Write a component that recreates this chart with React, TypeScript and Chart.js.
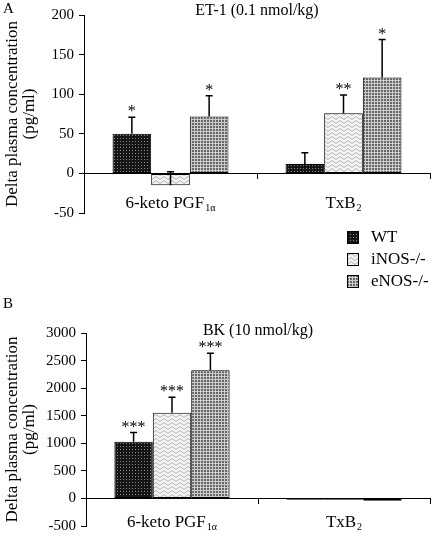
import React, { useEffect, useRef } from 'react';
import { Chart, registerables } from 'chart.js';

Chart.register(...registerables);

const FONT = "'Liberation Serif', 'Times New Roman', serif";

// ---- data ----
const categories = ['6-keto PGF', 'TxB'];
const categorySubscripts = ['1α', '2'];
const seriesNames = ['WT', 'iNOS-/-', 'eNOS-/-'];

// Panel A: ET-1 (0.1 nmol/kg)
const et1Title = 'ET-1 (0.1 nmol/kg)';
const et1Range = [-50, 200, 50];
const et1WT = [50, 12];
const et1iNOS = [-15, 76];
const et1eNOS = [72, 121];
const et1WTErr = [21, 14];
const et1iNOSErr = [17, 23];
const et1eNOSErr = [26, 48];
const et1WTStars = ['*', ''];
const et1iNOSStars = ['', '**'];
const et1eNOSStars = ['*', '*'];

// Panel B: BK (10 nmol/kg)
const bkTitle = 'BK (10 nmol/kg)';
const bkRange = [-500, 3000, 500];
const bkWT = [1030, -22];
const bkiNOS = [1555, -22];
const bkeNOS = [2325, -40];
const bkWTErr = [165, 0];
const bkiNOSErr = [278, 0];
const bkeNOSErr = [308, 0];
const bkWTStars = ['***', ''];
const bkiNOSStars = ['***', ''];
const bkeNOSStars = ['***', ''];

const yTitle = ['Delta plasma concentration', '(pg/ml)'];

// ---- patterns ----
function makeTile(kind: number): HTMLCanvasElement {
  const t = document.createElement('canvas');
  if (kind === 0) {
    t.width = 3; t.height = 3;
    const g = t.getContext('2d')!;
    g.fillStyle = '#151515'; g.fillRect(0, 0, 3, 3);
    g.fillStyle = '#8a8a8a'; g.fillRect(0, 0, 1, 1);
  } else if (kind === 1) {
    t.width = 8; t.height = 4;
    const g = t.getContext('2d')!;
    g.fillStyle = '#f4f4f4'; g.fillRect(0, 0, 8, 4);
    g.strokeStyle = '#b0b0b0'; g.lineWidth = 1;
    g.beginPath(); g.moveTo(0, 3.5); g.lineTo(4, 0.5); g.lineTo(8, 3.5); g.stroke();
  } else {
    t.width = 3; t.height = 3;
    const g = t.getContext('2d')!;
    g.fillStyle = '#cccccc'; g.fillRect(0, 0, 3, 3);
    g.fillStyle = '#666666'; g.fillRect(0, 0, 2, 2);
  }
  return t;
}

function makePattern(ctx: CanvasRenderingContext2D, kind: number) {
  return ctx.createPattern(makeTile(kind), 'repeat') as CanvasPattern;
}

type Cfg = {
  title: string;
  titleY: number;
  titleSize: number;
  labelOffset: number;
  errors: number[][];
  stars: string[][];
};

function annotPlugin(cfg: Cfg) {
  return {
    id: 'annot',
    afterDatasetsDraw(chart: any) {
      const ctx: CanvasRenderingContext2D = chart.ctx;
      const ys = chart.scales.y;
      const xs = chart.scales.x;
      ctx.save();
      chart.data.datasets.forEach((ds: any, di: number) => {
        const meta = chart.getDatasetMeta(di);
        meta.data.forEach((bar: any, i: number) => {
          const v = ds.data[i];
          const e = cfg.errors[di][i];
          let top = bar.y;
          if (e > 0) {
            const ey = ys.getPixelForValue(v + e);
            ctx.strokeStyle = '#000';
            ctx.lineWidth = 1.5;
            ctx.beginPath();
            ctx.moveTo(bar.x, bar.y);
            ctx.lineTo(bar.x, ey);
            ctx.moveTo(bar.x - 3.5, ey);
            ctx.lineTo(bar.x + 3.5, ey);
            ctx.stroke();
            top = ey;
          }
          const s = cfg.stars[di][i];
          if (s) {
            ctx.font = `16px ${FONT}`;
            ctx.fillStyle = '#000';
            ctx.textAlign = 'center';
            ctx.textBaseline = 'alphabetic';
            ctx.fillText(s, bar.x, top - 1);
          }
        });
      });
      // category labels with subscripts
      const zero = ys.getPixelForValue(0);
      const base = zero + cfg.labelOffset;
      categories.forEach((c, i) => {
        const cx = xs.getPixelForValue(i);
        ctx.font = `17px ${FONT}`;
        const w1 = ctx.measureText(c).width;
        ctx.font = `10px ${FONT}`;
        const w2 = ctx.measureText(categorySubscripts[i]).width;
        const gap = 1;
        const start = cx - (w1 + gap + w2) / 2;
        ctx.fillStyle = '#000';
        ctx.textAlign = 'left';
        ctx.textBaseline = 'alphabetic';
        ctx.font = `17px ${FONT}`;
        ctx.fillText(c, start, base);
        ctx.font = `10px ${FONT}`;
        ctx.fillText(categorySubscripts[i], start + w1 + gap, base + 3);
      });
      // panel title
      ctx.font = `${cfg.titleSize}px ${FONT}`;
      ctx.textAlign = 'center';
      ctx.textBaseline = 'middle';
      ctx.fillStyle = '#000';
      ctx.fillText(cfg.title, (chart.chartArea.left + chart.chartArea.right) / 2, cfg.titleY);
      ctx.restore();
    },
  };
}

function makeConfig(
  ctx: CanvasRenderingContext2D,
  series: number[][],
  range: number[],
  yWidth: number,
  padding: { top: number; bottom: number; left: number; right: number },
  cfg: Cfg
): any {
  return {
    type: 'bar',
    data: {
      labels: categories,
      datasets: series.map((d, k) => ({
        label: seriesNames[k],
        data: d,
        backgroundColor: makePattern(ctx, k),
        borderColor: '#000',
        borderWidth: 1,
        borderSkipped: false,
        barPercentage: 1,
        categoryPercentage: 0.67,
      })),
    },
    options: {
      responsive: false,
      animation: false,
      events: [],
      layout: { padding },
      plugins: {
        legend: { display: false },
        tooltip: { enabled: false },
        title: { display: false },
      },
      scales: {
        x: {
          type: 'category',
          position: { y: 0 },
          offset: true,
          ticks: { display: false },
          grid: {
            offset: true,
            drawOnChartArea: false,
            drawTicks: true,
            tickLength: 5,
            color: '#000',
            lineWidth: 1,
          },
          border: { color: '#000', width: 1 },
          afterFit: (s: any) => {
            s.height = 0;
          },
        },
        y: {
          min: range[0],
          max: range[1],
          ticks: {
            stepSize: range[2],
            color: '#000',
            font: { family: FONT, size: 15 },
            padding: 5,
            callback: (v: any) => String(v),
          },
          grid: {
            drawOnChartArea: false,
            drawTicks: true,
            tickLength: 5,
            color: '#000',
          },
          border: { color: '#000', width: 1 },
          title: {
            display: true,
            text: yTitle,
            color: '#000',
            font: { family: FONT, size: 17, lineHeight: 1.0 },
            padding: { top: 4, bottom: 0 },
          },
          afterFit: (s: any) => {
            s.width = yWidth;
          },
        },
      },
    },
    plugins: [annotPlugin(cfg)],
  };
}

function Swatch({ kind }: { kind: number }) {
  const ref = useRef<HTMLCanvasElement>(null);
  useEffect(() => {
    const c = ref.current;
    if (!c) return;
    const ctx = c.getContext('2d')!;
    ctx.fillStyle = makePattern(ctx, kind);
    ctx.fillRect(0, 0, 12, 13);
    ctx.strokeStyle = '#000';
    ctx.lineWidth = 1;
    ctx.strokeRect(0.5, 0.5, 11, 12);
  }, [kind]);
  return <canvas ref={ref} width={12} height={13} style={{ display: 'block' }} />;
}

export default function App() {
  const topRef = useRef<HTMLCanvasElement>(null);
  const botRef = useRef<HTMLCanvasElement>(null);

  useEffect(() => {
    const tc = topRef.current!;
    const bc = botRef.current!;
    const tctx = tc.getContext('2d')!;
    const bctx = bc.getContext('2d')!;
    const top = new Chart(
      tc,
      makeConfig(
        tctx,
        [et1WT, et1iNOS, et1eNOS],
        et1Range,
        84,
        { top: 15, bottom: 15, left: 0, right: 2 },
        {
          title: et1Title,
          titleY: 11,
          titleSize: 16,
          labelOffset: 35,
          errors: [et1WTErr, et1iNOSErr, et1eNOSErr],
          stars: [et1WTStars, et1iNOSStars, et1eNOSStars],
        }
      )
    );
    const bot = new Chart(
      bc,
      makeConfig(
        bctx,
        [bkWT, bkiNOS, bkeNOS],
        bkRange,
        86,
        { top: 43, bottom: 9, left: 0, right: 2 },
        {
          title: bkTitle,
          titleY: 41,
          titleSize: 16,
          labelOffset: 29,
          errors: [bkWTErr, bkiNOSErr, bkeNOSErr],
          stars: [bkWTStars, bkiNOSStars, bkeNOSStars],
        }
      )
    );
    return () => {
      top.destroy();
      bot.destroy();
    };
  }, []);

  const legendRowTops = [226, 248, 270];

  return (
    <div
      style={{
        position: 'fixed',
        left: 0,
        top: 0,
        width: 432,
        height: 540,
        background: '#fff',
        overflow: 'hidden',
        fontFamily: FONT,
        color: '#000',
      }}
    >
      <canvas ref={topRef} width={432} height={228} style={{ position: 'absolute', left: 0, top: 0 }} />
      <canvas ref={botRef} width={432} height={250} style={{ position: 'absolute', left: 0, top: 290 }} />
      <div style={{ position: 'absolute', left: 3, top: 0, fontSize: 15, lineHeight: '17px' }}>A</div>
      <div style={{ position: 'absolute', left: 3, top: 295, fontSize: 15, lineHeight: '17px' }}>B</div>
      {seriesNames.map((n, k) => (
        <div
          key={n}
          style={{
            position: 'absolute',
            left: 347,
            top: legendRowTops[k],
            height: 22,
            display: 'flex',
            alignItems: 'center',
            fontSize: 17,
            whiteSpace: 'nowrap',
          }}
        >
          <Swatch kind={k} />
          <span style={{ marginLeft: 12, lineHeight: '22px' }}>{n}</span>
        </div>
      ))}
    </div>
  );
}
